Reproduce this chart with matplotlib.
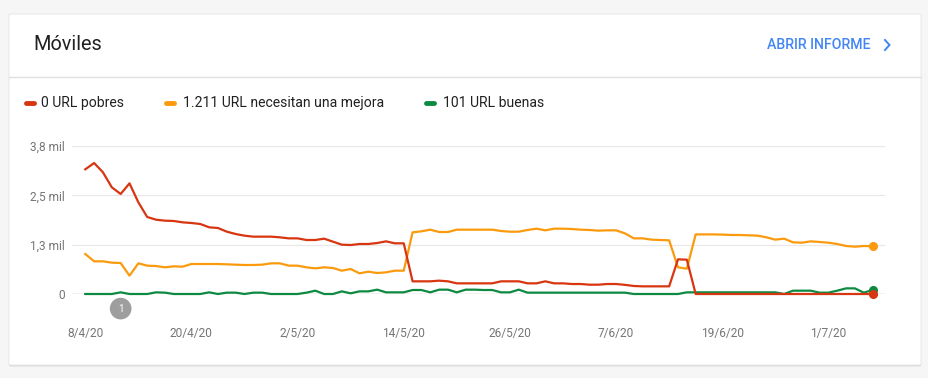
import matplotlib
matplotlib.use("Agg")
import matplotlib.pyplot as plt
import numpy as np
import pandas as pd
from matplotlib.lines import Line2D
from matplotlib.patches import FancyBboxPatch

plt.rcParams['font.family'] = ['Roboto', 'DejaVu Sans']

fechas = pd.date_range('2020-04-08', periods=90, freq='D')

pobres = [3159, 3319, 3083, 2703, 2534, 2804, 2323, 1951, 1883, 1858,
          1850, 1816, 1799, 1774, 1690, 1672, 1579, 1520, 1478, 1453,
          1453, 1453, 1436, 1410, 1410, 1368, 1368, 1402, 1326, 1250,
          1241, 1267, 1267, 1292, 1334, 1284, 1284, 321, 321, 321,
          338, 321, 270, 270, 270, 270, 270, 321, 321, 321,
          270, 270, 321, 270, 270, 253, 253, 236, 236, 253,
          253, 232, 203, 194, 194, 194, 194, 878, 870, 0,
          0, 0, 0, 0, 0, 0, 0, 0, 0, 0,
          0, 0, 0, 0, 0, 0, 0, 0, 0, 0]

mejora = [1013, 828, 828, 794, 785, 465, 777, 718, 709, 676,
          701, 693, 760, 760, 760, 760, 752, 743, 735, 735,
          743, 777, 777, 718, 718, 676, 650, 676, 659, 591,
          633, 524, 566, 532, 549, 591, 591, 1562, 1588, 1630,
          1571, 1571, 1630, 1630, 1630, 1630, 1630, 1596, 1579, 1579,
          1622, 1655, 1613, 1655, 1655, 1647, 1630, 1622, 1605, 1613,
          1613, 1537, 1410, 1410, 1377, 1368, 1360, 676, 642, 1510,
          1510, 1510, 1505, 1495, 1495, 1487, 1478, 1436, 1377, 1402,
          1309, 1300, 1334, 1318, 1300, 1267, 1216, 1199, 1216, 1211]

buenas = [0, 0, 0, 0, 42, 0, 0, 0, 42, 34,
          0, 0, 0, 0, 42, 0, 34, 34, 0, 34,
          34, 0, 0, 0, 0, 34, 84, 0, 0, 67,
          17, 67, 67, 110, 42, 42, 42, 101, 101, 42,
          110, 110, 42, 110, 110, 101, 101, 42, 42, 110,
          34, 34, 34, 34, 34, 34, 34, 34, 34, 34,
          34, 34, 0, 0, 0, 0, 0, 0, 42, 42,
          42, 42, 42, 42, 42, 42, 42, 42, 42, 0,
          84, 84, 84, 34, 34, 84, 143, 143, 34, 101]

y_ticks = [0, 1250, 2500, 3750]
y_labels = ['0', '1,3 mil', '2,5 mil', '3,8 mil']
x_ticks = fechas[::12][:8]
x_labels = [f"{d.day}/{d.month}/{d.year % 100}" for d in x_ticks]

leyenda = ['0 URL pobres', '1.211 URL necesitan una mejora', '101 URL buenas']
colores = ['#d83511', '#fb9a0d', '#0d8a42']

W, H = 929, 378
fig = plt.figure(figsize=(W / 100, H / 100), dpi=100)
fig.patch.set_facecolor('#f6f6f6')

def fx(px):
    return px / W

def fy(py):
    return 1 - py / H

# tarjeta con sombra
sombra = FancyBboxPatch((fx(9), fy(366.5)), fx(912), (352.5) / H,
                        boxstyle='round,pad=0,rounding_size=0.002',
                        transform=fig.transFigure, fc='#dcdcdc', ec='none', zorder=-3)
fig.patches.append(sombra)
tarjeta = FancyBboxPatch((fx(9), fy(365)), fx(912), 351 / H,
                         boxstyle='round,pad=0,rounding_size=0.002',
                         transform=fig.transFigure, fc='white', ec='#e4e4e4', lw=0.6, zorder=-2)
fig.patches.append(tarjeta)

fig.add_artist(Line2D([fx(9), fx(921)], [fy(76.5), fy(76.5)], color='#e0e0e0', lw=1))

fig.text(fx(33), fy(44), 'Móviles', fontsize=14.3, color='#212121', va='center', ha='left')
fig.text(fx(767), fy(45), 'ABRIR INFORME', fontsize=10.2, color='#4285f4', va='center',
         ha='left', fontweight='medium')
fig.add_artist(Line2D([fx(885), fx(889.5), fx(885)], [fy(40), fy(45), fy(50)],
                      color='#4285f4', lw=1.4, solid_joinstyle='miter'))

# leyenda
posiciones = [(25, 41), (165, 183), (425, 443)]
for (xm, xt), txt, c in zip(posiciones, leyenda, colores):
    fig.add_artist(Line2D([fx(xm + 1), fx(xm + 9)], [fy(103), fy(103)], color=c, lw=3.5,
                          solid_capstyle='round'))
    fig.text(fx(xt), fy(103), txt, fontsize=10.1, color='#212121', va='center', ha='left')

ax = fig.add_axes([fx(72), fy(294), fx(813), 148 / H])
ax.set_facecolor('none')
for s in ax.spines.values():
    s.set_visible(False)

for t in y_ticks[1:]:
    ax.axhline(t, color='#e8e8e8', lw=0.9, zorder=1)
ax.axhline(0, color='#9e9e9e', lw=0.9, zorder=1)

ax.plot(fechas, buenas, color=colores[2], lw=1.6, zorder=3, clip_on=False)
ax.plot(fechas, mejora, color=colores[1], lw=1.6, zorder=4, clip_on=False)
ax.plot(fechas, pobres, color=colores[0], lw=1.6, zorder=5, clip_on=False)
ax.plot(fechas[-1], buenas[-1], 'o', color=colores[2], ms=5.5, zorder=6, clip_on=False)
ax.plot(fechas[-1], mejora[-1], 'o', color=colores[1], ms=5.5, zorder=6, clip_on=False)
ax.plot(fechas[-1], pobres[-1], 'o', color=colores[0], ms=5.5, zorder=7, clip_on=False)

ax.set_xlim(fechas[0] - pd.Timedelta(days=1.5), fechas[-1] + pd.Timedelta(days=1.4))
ax.set_ylim(0, 3750)
ax.set_yticks(y_ticks)
ax.set_yticklabels(y_labels)
ax.set_xticks(x_ticks)
ax.set_xticklabels(x_labels)
ax.tick_params(axis='both', length=0, labelsize=8.6, labelcolor='#757575')
ax.tick_params(axis='y', pad=5)
ax.tick_params(axis='x', pad=24)

ax.annotate('1', xy=(fechas[4], 0), xytext=(0, -10.5), textcoords='offset points',
            ha='center', va='center', fontsize=7, color='white',
            bbox=dict(boxstyle='circle,pad=0.6', fc='#9e9e9e', ec='none'),
            annotation_clip=False)

fig.savefig('out.png', dpi=100, facecolor=fig.get_facecolor())
